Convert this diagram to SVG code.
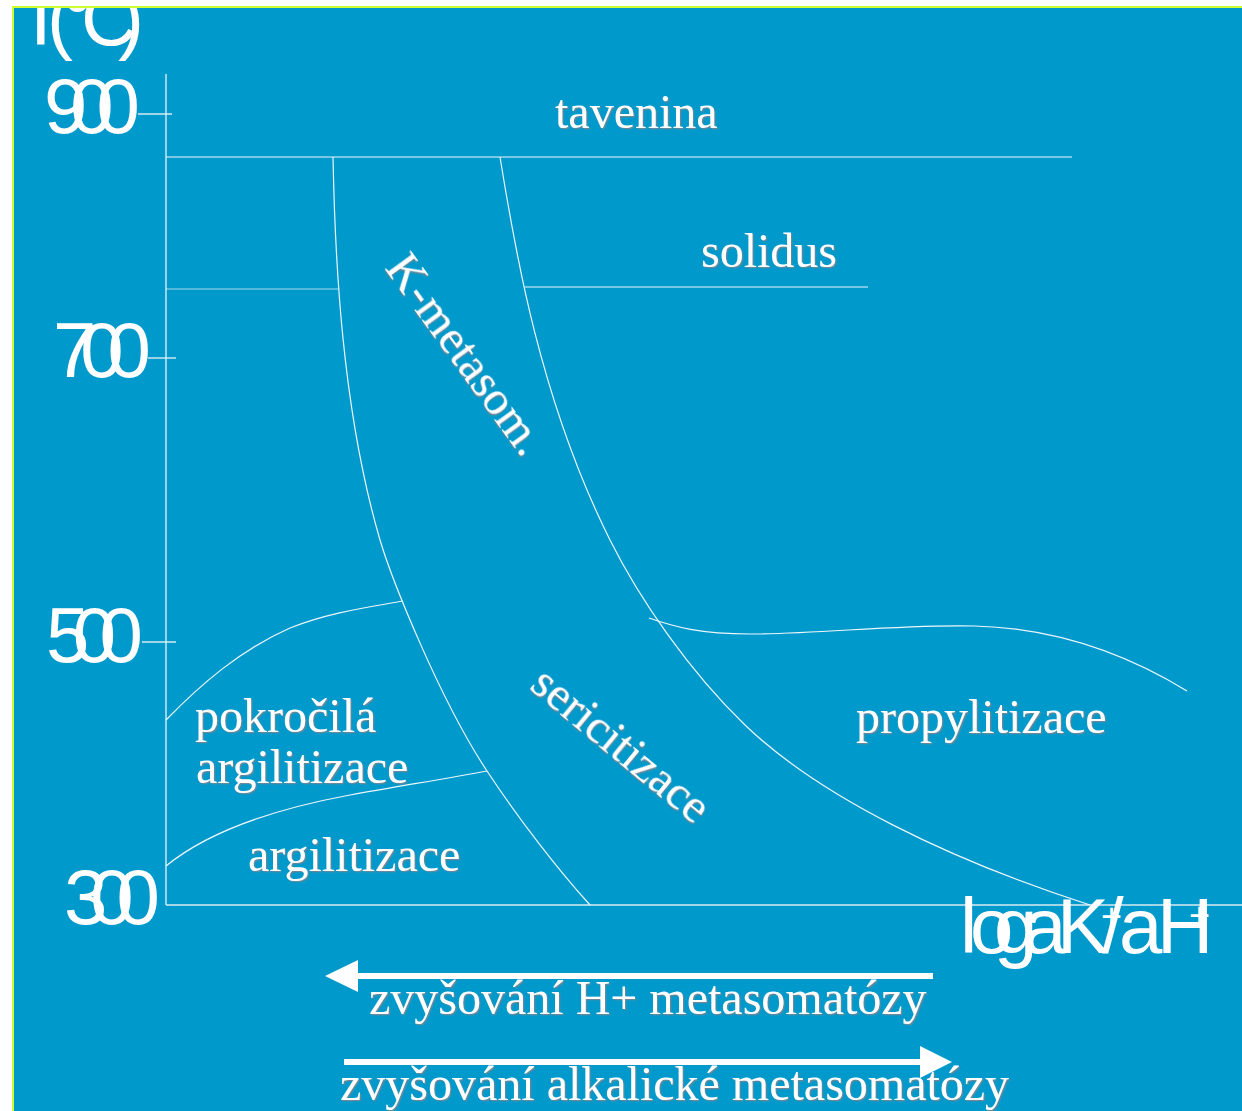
<svg xmlns="http://www.w3.org/2000/svg" width="1242" height="1111" viewBox="0 0 1242 1111">
<defs>
<clipPath id="plotClip"><rect x="14" y="8" width="1228" height="1103"/></clipPath>
<filter id="shadow" x="-5%" y="-20%" width="110%" height="140%">
<feDropShadow dx="1.3" dy="1.3" stdDeviation="0.35" flood-color="#6f8796" flood-opacity="0.95"/>
</filter>
<style>
.lbl{font-family:"Liberation Serif","Times New Roman",serif;font-size:48px;fill:#ffffff;filter:url(#shadow)}
.ax{font-family:"Liberation Sans",Arial,sans-serif;font-size:78px;fill:#ffffff}
.ln{fill:none;stroke:#eef7fb;stroke-width:1.2}
.axis{fill:none;stroke:#d9ebf3;stroke-width:1.4}
.arrow{fill:#ffffff}
</style>
</defs>
<rect x="0" y="0" width="1242" height="1111" fill="#ffffff"/>
<rect x="14" y="8" width="1228" height="1103" fill="#0099cc"/>
<g id="frame-border" fill="#ccff33">
<rect x="12" y="6" width="1230" height="2"/>
<rect x="12" y="6" width="2" height="1105"/>
</g>
<g clip-path="url(#plotClip)">
<g id="axes">
<line class="axis" x1="166" y1="74" x2="166" y2="905"/>
<line class="axis" x1="166" y1="905" x2="1242" y2="905"/>
<line class="axis" x1="138" y1="114" x2="172" y2="114"/>
<line class="axis" x1="148" y1="358" x2="176" y2="358"/>
<line class="axis" x1="142" y1="642" x2="176" y2="642"/>
<text class="ax" x="17 47 62 81 118" y="45">T(°C)</text>
<text class="ax" x="44" y="133" textLength="96" lengthAdjust="spacing">900</text>
<text class="ax" x="53" y="377" textLength="98" lengthAdjust="spacing">700</text>
<text class="ax" x="46" y="662" textLength="97" lengthAdjust="spacing">500</text>
<text class="ax" x="64" y="924" textLength="96" lengthAdjust="spacing">300</text>
<text class="ax" y="953"><tspan x="960 970 994 1023 1057">logaK</tspan><tspan x="1101" y="929" font-size="36">+</tspan><tspan x="1102 1119 1157" y="953">/aH</tspan><tspan x="1189" y="928" font-size="36">+</tspan></text>
</g>
<g id="connectors">
<line class="ln" x1="166" y1="157" x2="1072" y2="157"/>
<line class="ln" x1="166" y1="289" x2="338" y2="289" stroke-opacity="0.7"/>
<line class="ln" x1="525" y1="287" x2="868" y2="287"/>
<path class="ln" d="M333,157 C335,260 342,410 380,540 C392,580 440,700 487,771 C520,821 560,872 590,905"/>
<path class="ln" d="M500,157 C515,250 540,400 610,540 C640,600 690,672 745,725 C820,797 950,860 1090,905"/>
<path class="ln" d="M649,618 C675,627 700,634 750,634 C820,634 900,624 975,626 C1050,628 1120,650 1187,691"/>
<path class="ln" d="M166,720 C200,685 240,650 290,628 C330,612 370,607 403,601"/>
<path class="ln" d="M166,866 C210,830 280,808 350,795 C400,786 450,778 487,771"/>
</g>
<g id="label-tavenina"><text class="lbl" x="555" y="128">tavenina</text></g>
<g id="label-solidus"><text class="lbl" x="701" y="267">solidus</text></g>
<g id="label-k-metasom"><text class="lbl" transform="translate(384,268) rotate(54)">K-metasom.</text></g>
<g id="label-sericitizace"><text class="lbl" transform="translate(528,688) rotate(39.5)">sericitizace</text></g>
<g id="label-pokrocila"><text class="lbl" x="195" y="732">pokročilá</text><text class="lbl" x="196" y="783">argilitizace</text></g>
<g id="label-argilitizace"><text class="lbl" x="248" y="871">argilitizace</text></g>
<g id="label-propylitizace"><text class="lbl" x="856" y="733">propylitizace</text></g>
<g id="arrow-h">
<rect class="arrow" x="355" y="973" width="578" height="6"/>
<polygon class="arrow" points="325,976 358,960 358,992"/>
<text class="lbl" x="369" y="1014">zvyšování H+ metasomatózy</text>
</g>
<g id="arrow-alk">
<rect class="arrow" x="344" y="1059" width="578" height="6"/>
<polygon class="arrow" points="952,1062 920,1046 920,1078"/>
<text class="lbl" x="340" y="1100">zvyšování alkalické metasomatózy</text>
</g>
</g>
</svg>
